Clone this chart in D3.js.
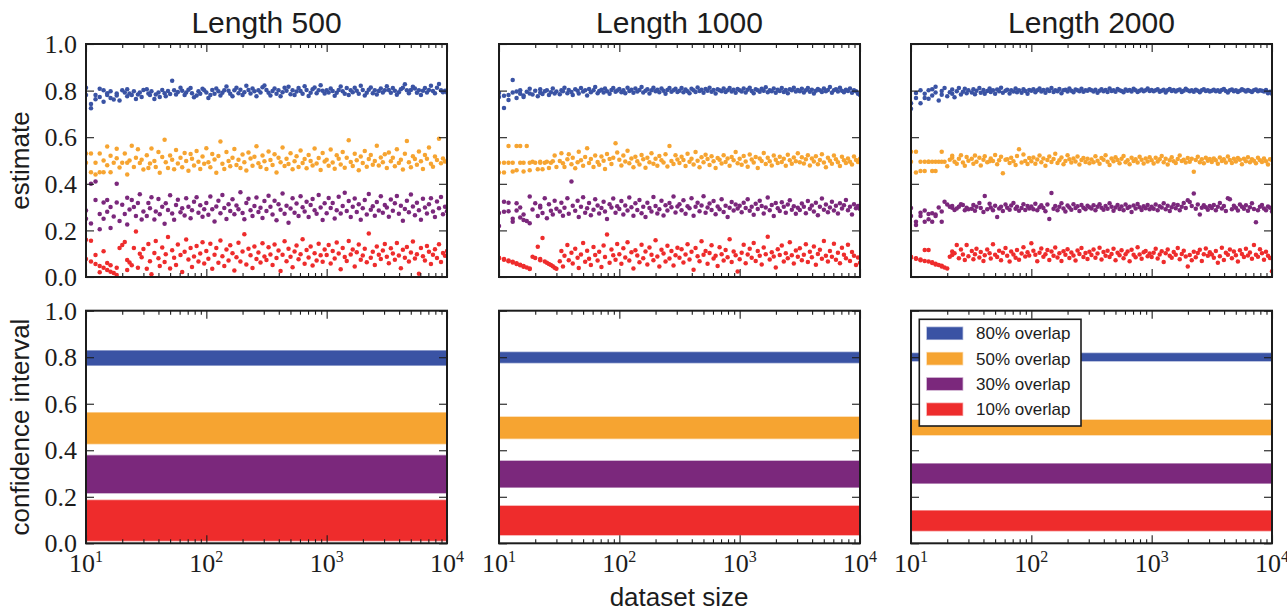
<!DOCTYPE html>
<html><head><meta charset="utf-8">
<script src="https://cdn.jsdelivr.net/npm/d3@7"></script>
<style>body{margin:0;background:#fff}svg{display:block}</style>
</head><body><svg id="c" width="1287" height="611"></svg>
<script>
// dataset sizes (x values, shared by all series)
const sizes = [10,10,11,11,12,12,13,13,14,14,15,15,16,16,17,18,18,19,20,21,22,22,23,24,25,26,27,28,29,30,
32,33,34,35,37,38,40,41,43,45,46,48,50,52,54,56,58,61,63,66,68,71,74,76,79,83,86,89,93,96,
100,104,108,112,117,121,126,131,136,141,147,153,158,165,171,178,185,192,200,207,215,224,233,242,251,261,271,282,293,304,
316,329,341,355,369,383,398,414,430,447,464,482,501,521,541,562,584,607,631,656,681,708,736,764,794,825,858,891,926,962,
1000,1039,1080,1122,1166,1212,1259,1308,1359,1413,1468,1525,1585,1647,1711,1778,1848,1920,1995,2073,2154,2239,2326,2417,2512,2610,2712,2818,2929,3043,
3162,3286,3415,3548,3687,3831,3981,4137,4299,4467,4642,4823,5012,5208,5412,5623,5843,6072,6310,6556,6813,7079,7356,7644,7943,8254,8577,8913,9261,9624,
10000];

const overlaps = ["80% overlap","50% overlap","30% overlap","10% overlap"];
const colors = ["#3a53a4","#f6a431","#7b287c","#ee2c2c"];
const titles = ["Length 500","Length 1000","Length 2000"];
const yTicks = [0,0.2,0.4,0.6,0.8,1.0];
const yTickLabels = ["0.0","0.2","0.4","0.6","0.8","1.0"];
const xTicks = [10,100,1000,10000];
const xTickExp = ["1","2","3","4"];
const xMinor = [20,30,40,50,60,70,80,90,200,300,400,500,600,700,800,900,2000,3000,4000,5000,6000,7000,8000,9000];

// ---- estimates, Length 500 ----
const est500_80 = [.812,.781,.724,.742,.763,.781,.772,.808,.802,.752,.781,.789,.768,.797,.762,.788,.779,.757,.801,.792,.776,.806,.788,.781,.797,.764,.783,.792,.772,.803,
.806,.788,.781,.797,.764,.783,.792,.772,.803,.789,.776,.798,.785,.842,.801,.783,.794,.812,.799,.781,.792,.804,.811,.789,.771,.779,.797,.786,.808,.801,
.792,.768,.781,.803,.786,.809,.797,.779,.791,.802,.818,.799,.787,.776,.801,.812,.789,.804,.781,.793,.821,.803,.788,.809,.797,.776,.801,.792,.814,.822,
.803,.791,.779,.798,.809,.787,.801,.776,.793,.812,.799,.817,.784,.802,.781,.796,.811,.798,.786,.819,.803,.777,.791,.806,.813,.789,.801,.823,.799,.788,
.801,.792,.809,.798,.778,.791,.803,.818,.797,.786,.811,.781,.802,.793,.812,.799,.787,.821,.803,.779,.791,.804,.813,.789,.801,.783,.798,.809,.792,.801,
.819,.803,.791,.811,.799,.782,.793,.806,.812,.827,.801,.789,.803,.817,.809,.791,.802,.781,.799,.811,.792,.803,.821,.798,.789,.812,.828,.801,.793,.799,
.792];
const est500_50 = [.490,.530,.450,.530,.440,.490,.530,.450,.450,.500,.480,.560,.520,.450,.490,.550,.510,.470,.490,.530,.490,.440,.500,.563,.472,.512,.548,.489,.503,.461,
.523,.468,.487,.552,.498,.472,.536,.447,.515,.589,.493,.468,.521,.503,.462,.545,.487,.512,.471,.532,.498,.456,.528,.507,.479,.541,.495,.463,.517,.486,
.553,.492,.471,.528,.504,.447,.519,.582,.486,.463,.537,.498,.475,.512,.549,.481,.503,.468,.526,.492,.457,.534,.509,.478,.516,.561,.488,.472,.521,.497,
.463,.539,.502,.481,.527,.449,.512,.493,.556,.476,.508,.485,.531,.462,.497,.518,.472,.543,.489,.506,.467,.524,.498,.479,.552,.487,.511,.459,.532,.496,
.503,.478,.547,.491,.465,.522,.508,.483,.536,.469,.512,.587,.494,.476,.529,.501,.458,.517,.489,.541,.473,.506,.524,.482,.498,.563,.479,.513,.492,.527,
.468,.534,.497,.512,.475,.548,.489,.503,.461,.529,.584,.493,.471,.518,.506,.482,.539,.497,.463,.524,.508,.556,.486,.473,.517,.502,.593,.488,.509,.496,
.497];
const est500_30 = [.285,.250,.400,.230,.410,.330,.205,.270,.320,.250,.330,.280,.300,.210,.260,.400,.320,.240,.310,.270,.225,.340,.290,.330,.300,.262,.318,.355,.247,.281,
.262,.318,.295,.342,.247,.281,.335,.269,.302,.229,.317,.288,.351,.273,.246,.309,.332,.278,.295,.264,.338,.301,.252,.287,.323,.342,.276,.308,.259,.291,
.318,.267,.345,.291,.238,.303,.327,.274,.352,.296,.249,.312,.283,.334,.269,.307,.291,.364,.275,.248,.318,.336,.287,.262,.305,.341,.279,.297,.253,.326,
.283,.349,.301,.268,.327,.244,.312,.289,.358,.271,.306,.233,.294,.338,.276,.315,.262,.347,.299,.281,.323,.257,.309,.335,.286,.271,.352,.298,.245,.317,
.274,.339,.296,.318,.251,.287,.344,.272,.305,.362,.283,.326,.258,.301,.337,.279,.312,.246,.295,.331,.268,.356,.289,.304,.263,.322,.285,.347,.276,.309,
.298,.259,.333,.284,.317,.348,.271,.306,.241,.292,.327,.278,.354,.303,.265,.319,.287,.246,.336,.298,.273,.312,.338,.281,.257,.324,.295,.343,.269,.301,
.282];
const est500_10 = [.077,.160,.066,.156,.056,.094,.047,.020,.040,.110,.030,.060,.023,.050,.017,.009,.040,.125,.137,.150,.073,.030,.062,.050,.125,.195,.040,.100,.085,.120,
.035,.142,.068,.012,.103,.155,.081,.047,.127,.064,.098,.172,.036,.115,.083,.052,.139,.094,.021,.108,.161,.075,.124,.043,.088,.133,.067,.101,.149,.058,
.112,.078,.143,.035,.096,.124,.061,.157,.089,.047,.118,.071,.136,.102,.028,.085,.147,.066,.109,.183,.054,.121,.093,.039,.131,.077,.105,.062,.145,.088,
.073,.128,.097,.051,.139,.082,.114,.026,.095,.153,.068,.121,.087,.042,.109,.135,.076,.098,.162,.057,.116,.084,.131,.049,.102,.071,.143,.093,.065,.118,
.094,.137,.058,.112,.079,.148,.101,.033,.125,.086,.069,.154,.097,.118,.045,.106,.139,.074,.092,.121,.063,.187,.083,.108,.052,.131,.095,.077,.114,.142,
.087,.059,.123,.101,.074,.146,.092,.038,.117,.083,.129,.066,.105,.152,.079,.098,.014,.124,.089,.071,.133,.108,.056,.095,.119,.082,.141,.064,.103,.091,
.112];

// ---- estimates, Length 1000 ----
const est1000_80 = [.772,.790,.725,.778,.781,.760,.845,.792,.768,.796,.787,.801,.779,.772,.795,.788,.808,.783,.799,.776,.791,.806,.785,.797,.802,.781,.793,.809,.788,.796,
.784,.801,.797,.812,.789,.803,.794,.781,.806,.799,.788,.811,.796,.802,.779,.807,.793,.801,.815,.789,.798,.804,.792,.809,.797,.786,.803,.811,.795,.800,
.807,.793,.801,.789,.812,.798,.804,.791,.809,.796,.803,.815,.792,.799,.806,.788,.801,.812,.797,.804,.793,.809,.799,.786,.803,.811,.795,.802,.808,.794,
.799,.811,.793,.805,.797,.789,.808,.801,.794,.813,.798,.804,.791,.807,.799,.812,.795,.803,.788,.806,.801,.797,.809,.794,.802,.811,.796,.804,.791,.807,
.801,.796,.809,.792,.804,.812,.798,.789,.806,.801,.795,.808,.799,.814,.793,.802,.797,.809,.791,.804,.798,.811,.794,.803,.789,.806,.801,.812,.796,.803,
.797,.808,.792,.801,.811,.795,.804,.788,.799,.807,.802,.794,.809,.797,.803,.815,.791,.801,.806,.796,.812,.799,.793,.804,.798,.809,.791,.802,.797,.786,
.781];
const est1000_50 = [.448,.490,.490,.448,.562,.490,.453,.490,.458,.562,.490,.562,.453,.490,.562,.490,.458,.495,.490,.462,.490,.495,.462,.490,.495,.468,.490,.497,.521,.472,
.498,.531,.488,.472,.505,.527,.484,.512,.467,.493,.538,.501,.477,.515,.553,.489,.506,.472,.521,.494,.482,.517,.499,.463,.528,.506,.485,.512,.574,.534,
.503,.479,.521,.496,.542,.488,.509,.471,.516,.497,.483,.524,.505,.469,.512,.493,.531,.486,.508,.477,.519,.501,.491,.527,.474,.562,.498,.485,.522,.504,
.489,.516,.502,.476,.529,.495,.508,.483,.537,.499,.471,.514,.492,.525,.506,.481,.518,.497,.468,.511,.503,.487,.523,.494,.509,.478,.515,.501,.536,.488,
.507,.482,.519,.496,.473,.526,.504,.491,.515,.468,.509,.498,.532,.485,.512,.497,.479,.521,.503,.489,.516,.494,.508,.477,.525,.501,.486,.513,.497,.531,
.492,.514,.487,.505,.523,.479,.509,.496,.518,.484,.502,.527,.491,.471,.512,.499,.486,.521,.505,.493,.476,.516,.501,.489,.509,.495,.483,.517,.502,.494,
.508];
const est1000_30 = [.275,.219,.323,.280,.282,.319,.250,.237,.285,.317,.298,.255,.268,.245,.240,.345,.231,.290,.317,.262,.306,.298,.275,.338,.252,.312,.284,.268,.327,.293,
.281,.319,.263,.297,.338,.271,.410,.306,.284,.327,.258,.301,.342,.276,.295,.318,.265,.289,.334,.307,.272,.296,.323,.281,.249,.312,.298,.337,.276,.304,
.292,.326,.268,.307,.285,.341,.299,.263,.316,.288,.331,.274,.302,.257,.319,.296,.281,.343,.305,.272,.291,.327,.264,.308,.285,.318,.299,.346,.277,.303,
.312,.286,.329,.271,.304,.295,.338,.263,.301,.319,.282,.307,.347,.276,.298,.315,.288,.326,.269,.303,.291,.334,.279,.306,.258,.297,.322,.285,.311,.294,
.306,.278,.319,.296,.334,.284,.301,.267,.314,.292,.327,.305,.273,.298,.341,.286,.309,.262,.318,.295,.283,.321,.302,.276,.311,.329,.289,.304,.271,.297,
.288,.315,.301,.274,.326,.293,.307,.281,.319,.265,.302,.337,.289,.311,.278,.298,.323,.285,.306,.272,.316,.294,.308,.331,.287,.301,.268,.312,.295,.305,
.292];
const est1000_10 = [.083,.080,.077,.074,.071,.068,.065,.062,.059,.056,.053,.050,.047,.044,.041,.037,.034,.087,.082,.130,.077,.072,.167,.066,.061,.056,.051,.046,.040,.035,
.068,.112,.045,.091,.137,.072,.104,.058,.121,.083,.039,.097,.146,.065,.113,.078,.052,.129,.094,.071,.108,.043,.135,.086,.182,.061,.118,.093,.074,.142,
.098,.057,.123,.084,.149,.071,.106,.037,.115,.092,.063,.138,.081,.109,.054,.127,.096,.072,.158,.088,.045,.117,.101,.066,.134,.079,.112,.049,.093,.126,
.083,.119,.062,.097,.141,.075,.108,.031,.124,.089,.068,.153,.095,.112,.057,.103,.136,.079,.091,.047,.128,.098,.071,.116,.085,.162,.064,.109,.093,.024,
.076,.104,.138,.059,.097,.121,.083,.146,.069,.112,.091,.054,.127,.098,.173,.075,.106,.088,.041,.119,.094,.135,.067,.102,.081,.149,.093,.058,.114,.087,
.123,.072,.096,.141,.064,.108,.085,.131,.053,.099,.117,.078,.155,.091,.066,.112,.087,.143,.074,.104,.059,.126,.095,.081,.138,.069,.107,.091,.052,.084,
.061];

// ---- estimates, Length 2000 ----
const est2000_80 = [.722,.746,.768,.790,.801,.746,.768,.786,.801,.765,.779,.806,.816,.792,.758,.782,.798,.811,.776,.793,.805,.787,.771,.797,.811,.783,.795,.808,.789,.801,
.792,.806,.784,.799,.811,.791,.803,.787,.798,.809,.794,.802,.786,.805,.797,.812,.791,.799,.804,.788,.801,.796,.809,.793,.802,.791,.806,.798,.787,.803,
.799,.806,.793,.801,.809,.796,.803,.791,.805,.798,.811,.794,.802,.797,.807,.789,.801,.804,.796,.809,.799,.793,.805,.801,.797,.808,.795,.802,.799,.806,
.801,.796,.804,.791,.799,.806,.797,.803,.794,.809,.798,.801,.795,.807,.802,.798,.793,.805,.799,.803,.796,.808,.801,.794,.799,.805,.797,.802,.809,.798,
.803,.797,.801,.806,.795,.799,.804,.792,.801,.807,.798,.803,.796,.801,.805,.794,.799,.808,.802,.797,.801,.795,.804,.799,.793,.802,.806,.798,.801,.796,
.799,.804,.797,.801,.795,.803,.807,.798,.792,.801,.805,.797,.802,.794,.799,.806,.801,.796,.803,.798,.794,.801,.805,.797,.802,.799,.796,.803,.789,.795,
.786];
const est2000_50 = [.538,.495,.448,.538,.495,.455,.495,.455,.495,.495,.455,.495,.495,.455,.495,.538,.495,.495,.475,.503,.520,.512,.495,.486,.508,.522,.491,.478,.515,.499,
.507,.486,.521,.495,.512,.479,.503,.518,.492,.497,.509,.498,.524,.484,.501,.516,.445,.503,.505,.489,.512,.497,.481,.519,.548,.491,.526,.498,.485,.511,
.497,.513,.486,.504,.521,.492,.509,.478,.502,.517,.494,.506,.529,.489,.501,.513,.484,.498,.522,.505,.491,.509,.496,.517,.483,.502,.511,.494,.507,.488,
.504,.492,.518,.499,.486,.511,.503,.523,.495,.481,.509,.497,.514,.502,.488,.507,.519,.493,.501,.484,.512,.498,.505,.491,.516,.503,.487,.509,.496,.514,
.501,.487,.512,.496,.505,.519,.492,.508,.483,.501,.514,.497,.489,.506,.521,.498,.503,.491,.511,.495,.507,.452,.502,.516,.493,.505,.488,.512,.499,.506,
.494,.509,.501,.486,.513,.498,.505,.491,.517,.502,.489,.507,.496,.511,.503,.484,.508,.497,.514,.492,.505,.499,.488,.512,.501,.494,.509,.497,.483,.505,
.502];
const est2000_30 = [.296,.262,.237,.223,.276,.262,.237,.285,.270,.248,.274,.237,.262,.268,.298,.281,.237,.323,.311,.302,.297,.305,.288,.294,.301,.312,.309,.286,.297,.291,
.293,.309,.284,.301,.318,.296,.279,.348,.291,.314,.298,.287,.306,.257,.294,.302,.283,.311,.297,.289,.307,.318,.293,.301,.284,.296,.312,.288,.305,.294,
.303,.291,.314,.287,.299,.308,.296,.282,.311,.249,.361,.293,.305,.287,.302,.316,.294,.281,.307,.298,.289,.312,.296,.304,.283,.309,.297,.291,.306,.299,
.294,.308,.286,.301,.312,.297,.289,.305,.293,.316,.301,.284,.298,.309,.292,.303,.287,.311,.296,.302,.279,.307,.294,.313,.299,.288,.304,.295,.309,.291,
.302,.293,.311,.287,.304,.298,.316,.291,.306,.283,.299,.312,.295,.309,.287,.301,.318,.296,.329,.322,.305,.358,.293,.311,.268,.297,.308,.299,.289,.305,
.296,.309,.287,.302,.318,.294,.305,.283,.338,.334,.291,.306,.297,.285,.311,.302,.293,.308,.284,.299,.317,.292,.235,.287,.301,.309,.294,.286,.303,.297,
.281];
const est2000_10 = [.087,.084,.081,.078,.075,.072,.069,.116,.066,.116,.063,.060,.057,.054,.051,.048,.045,.041,.037,.087,.109,.094,.102,.137,.081,.118,.097,.073,.137,.089,
.112,.076,.098,.121,.084,.107,.069,.093,.118,.102,.079,.141,.095,.086,.113,.072,.104,.125,.091,.067,.109,.097,.083,.116,.074,.101,.128,.088,.106,.092,
.145,.113,.095,.068,.104,.122,.087,.098,.116,.073,.109,.091,.127,.084,.102,.069,.111,.096,.119,.082,.105,.092,.071,.114,.099,.124,.086,.103,.077,.108,
.094,.118,.083,.101,.126,.075,.107,.091,.113,.086,.099,.121,.072,.104,.093,.115,.081,.098,.109,.068,.117,.095,.085,.128,.097,.078,.106,.112,.089,.101,
.086,.104,.121,.079,.097,.111,.064,.102,.118,.091,.083,.107,.095,.125,.076,.099,.113,.088,.045,.094,.072,.108,.085,.103,.117,.069,.098,.122,.091,.106,
.097,.083,.112,.061,.089,.126,.073,.104,.095,.118,.081,.109,.093,.067,.115,.099,.086,.121,.092,.105,.078,.137,.096,.087,.119,.102,.074,.108,.091,.082,
.025];

// ---- confidence intervals (order: 80%, 50%, 30%, 10%) ----
const ci500_low   = [.765,.428,.216,.011];
const ci500_high  = [.828,.561,.377,.185];
const ci1000_low  = [.776,.451,.241,.036];
const ci1000_high = [.821,.543,.354,.160];
const ci2000_low  = [.784,.466,.258,.054];
const ci2000_high = [.817,.530,.342,.140];

// ---------------- drawing ----------------
const est = [[est500_80,est500_50,est500_30,est500_10],
             [est1000_80,est1000_50,est1000_30,est1000_10],
             [est2000_80,est2000_50,est2000_30,est2000_10]];
const ciLow = [ci500_low, ci1000_low, ci2000_low];
const ciHigh = [ci500_high, ci1000_high, ci2000_high];

const svg = d3.select("#c");
const colX = [86, 499, 911], PW = 361;
const rows = [{top:44, bottom:277}, {top:310.7, bottom:543.3}];
const SANS = "'Liberation Sans', Arial, Helvetica, sans-serif";
const SERIF = "'Liberation Serif', 'Times New Roman', serif";
const INK = "#1c1c1c";

function frameAndTicks(g, x, y, r, c, showY, showX) {
  const L = x.range()[0], R = x.range()[1];
  const mk = (axis, tr, size, vals) => {
    const a = g.append("g").attr("transform", tr)
      .call(axis.tickValues(vals).tickSize(size).tickFormat(() => ""));
    a.select(".domain").remove();
    a.selectAll("line").attr("stroke", INK).attr("stroke-width", 1.1);
  };
  mk(d3.axisBottom(x), `translate(0,${r.bottom})`, -8, xTicks);
  mk(d3.axisBottom(x), `translate(0,${r.bottom})`, -4, xMinor);
  mk(d3.axisTop(x), `translate(0,${r.top})`, -8, xTicks);
  mk(d3.axisTop(x), `translate(0,${r.top})`, -4, xMinor);
  mk(d3.axisLeft(y), `translate(${L},0)`, -8, yTicks);
  mk(d3.axisRight(y), `translate(${R},0)`, -8, yTicks);
  g.append("rect").attr("x", L).attr("y", r.top).attr("width", R - L).attr("height", r.bottom - r.top)
    .attr("fill", "none").attr("stroke", INK).attr("stroke-width", 2);
  if (showY) {
    g.append("g").selectAll("text").data(yTicks).join("text")
      .attr("x", L - 9).attr("y", d => y(d)).attr("dy", "0.35em")
      .attr("text-anchor", "end").attr("font-family", SERIF).attr("font-size", 26)
      .attr("fill", INK).text((d, i) => yTickLabels[i]);
  }
  if (showX) {
    const t = g.append("g").selectAll("text").data(xTicks).join("text")
      .attr("x", d => x(d)).attr("y", 571.7).attr("text-anchor", "middle")
      .attr("font-family", SERIF).attr("font-size", 26).attr("fill", INK);
    t.append("tspan").text("10");
    t.append("tspan").attr("font-size", 16).attr("dy", -9.5).text((d, i) => xTickExp[i]);
  }
}

for (let c = 0; c < 3; c++) {
  const x = d3.scaleLog().domain([10, 10000]).range([colX[c], colX[c] + PW]);
  // top row: scatter of estimates
  {
    const r = rows[0];
    const y = d3.scaleLinear().domain([0, 1]).range([r.bottom, r.top]);
    const g = svg.append("g");
    const cid = "clipT" + c;
    svg.append("clipPath").attr("id", cid).append("rect")
      .attr("x", colX[c]).attr("y", r.top).attr("width", PW).attr("height", r.bottom - r.top);
    const dots = g.append("g").attr("clip-path", `url(#${cid})`);
    est[c].forEach((vals, s) => {
      const pts = sizes.map((n, i) => [n, vals[i]]).filter(p => p[1] !== undefined);
      dots.append("g").selectAll("circle").data(pts).join("circle")
        .attr("cx", d => x(d[0])).attr("cy", d => y(d[1])).attr("r", 2.25)
        .attr("fill", colors[s]);
    });
    frameAndTicks(g, x, y, r, c, c === 0, false);
    svg.append("text").attr("x", colX[c] + PW / 2).attr("y", 33).attr("text-anchor", "middle")
      .attr("font-family", SANS).attr("font-size", 30).attr("fill", INK).text(titles[c]);
  }
  // bottom row: confidence interval bands
  {
    const r = rows[1];
    const y = d3.scaleLinear().domain([0, 1]).range([r.bottom, r.top]);
    const g = svg.append("g");
    const cid = "clipB" + c;
    svg.append("clipPath").attr("id", cid).append("rect")
      .attr("x", colX[c]).attr("y", r.top).attr("width", PW).attr("height", r.bottom - r.top);
    const area = d3.area().x(d => x(d.n)).y0(d => y(d.lo)).y1(d => y(d.hi));
    const bands = g.append("g").attr("clip-path", `url(#${cid})`);
    overlaps.forEach((o, s) => {
      const data = [10, 10000].map(n => ({n, lo: ciLow[c][s], hi: ciHigh[c][s]}));
      bands.append("path").datum(data).attr("d", area)
        .attr("fill", colors[s]).attr("stroke", colors[s]).attr("stroke-opacity", 0.45)
        .attr("stroke-width", 1.5);
    });
    frameAndTicks(g, x, y, r, c, c === 0, true);
  }
}

// legend (inside Length 2000 bottom panel)
{
  const lg = svg.append("g");
  lg.append("rect").attr("x", 919.3).attr("y", 319.3).attr("width", 161.7).attr("height", 106.7)
    .attr("fill", "#fff").attr("stroke", INK).attr("stroke-width", 1.6);
  const rowY = d3.scalePoint().domain(overlaps).range([333.3, 409.3]);
  overlaps.forEach((o, s) => {
    lg.append("rect").attr("x", 927).attr("y", rowY(o) - 6).attr("width", 35.5).attr("height", 12)
      .attr("fill", colors[s]).attr("stroke", colors[s]).attr("stroke-opacity", 0.45).attr("stroke-width", 1.5);
    lg.append("text").attr("x", 976).attr("y", rowY(o)).attr("dy", "0.36em")
      .attr("font-family", SANS).attr("font-size", 17).attr("fill", INK).text(o);
  });
}

// axis titles
svg.append("text").attr("transform", "translate(29,160.5) rotate(-90)").attr("text-anchor", "middle")
  .attr("font-family", SANS).attr("font-size", 26).attr("fill", INK).text("estimate");
svg.append("text").attr("transform", "translate(29,427) rotate(-90)").attr("text-anchor", "middle")
  .attr("font-family", SANS).attr("font-size", 26).attr("fill", INK).text("confidence interval");
svg.append("text").attr("x", 679).attr("y", 606).attr("text-anchor", "middle")
  .attr("font-family", SANS).attr("font-size", 26).attr("fill", INK).text("dataset size");

// sanity check of array lengths
const bad = [];
est.forEach((p, c) => p.forEach((a, s) => { if (a.length !== sizes.length) bad.push(`panel${c} series${s}: ${a.length}`); }));
if (bad.length) throw new Error("length mismatch (expected " + sizes.length + "): " + bad.join(", "));
</script></body></html>
